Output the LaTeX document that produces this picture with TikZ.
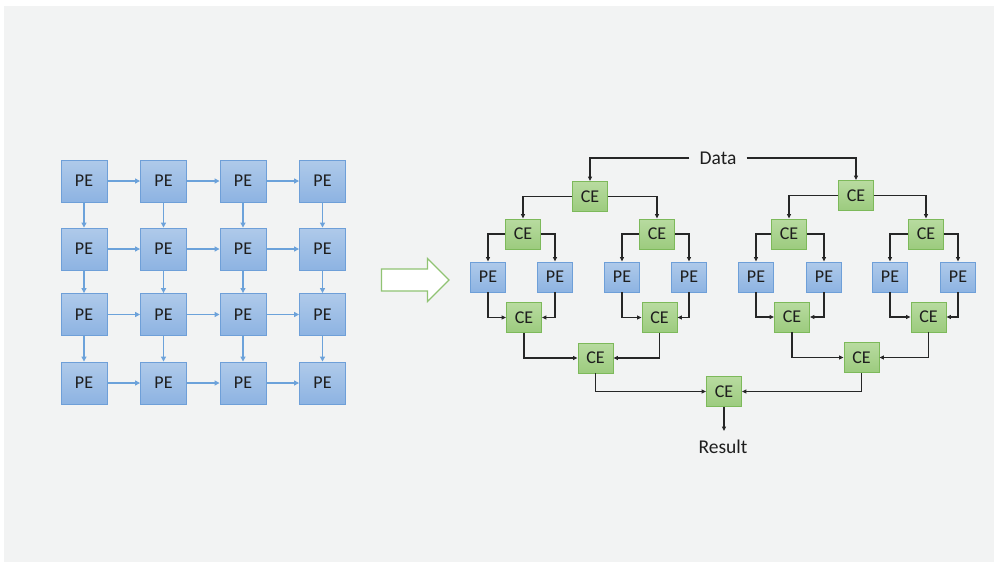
\documentclass[tikz,border=0pt]{standalone}
\usepackage{fontspec}
\setmainfont{Carlito}
\usetikzlibrary{arrows.meta}
\definecolor{bgray}{HTML}{F2F3F3}
\definecolor{petop}{HTML}{AFCAEA}
\definecolor{pebot}{HTML}{8DB3E2}
\definecolor{peline}{HTML}{6E9FD8}
\definecolor{cetop}{HTML}{B8DBA0}
\definecolor{cebot}{HTML}{9CCB7E}
\definecolor{celine}{HTML}{7DB95A}
\definecolor{gridarrow}{HTML}{6CA2DA}
\definecolor{linkcol}{HTML}{262626}
\definecolor{txt}{HTML}{1E1E1E}
\tikzset{
  gridpe/.style={draw=peline, line width=0.9pt, top color=petop, bottom color=pebot,
    minimum width=46pt, minimum height=42pt, inner sep=0pt, font=\fontsize{18}{19}\selectfont, text=txt},
  smallpe/.style={draw=peline, line width=0.9pt, top color=petop, bottom color=pebot,
    minimum width=35pt, minimum height=30pt, inner sep=0pt, font=\fontsize{18}{19}\selectfont, text=txt},
  cebox/.style={draw=celine, line width=0.9pt, top color=cetop, bottom color=cebot,
    minimum width=35pt, minimum height=30pt, inner sep=0pt, font=\fontsize{18}{19}\selectfont, text=txt},
  gridlink/.style={draw=gridarrow, line width=1.2pt, -{Triangle[length=5pt,width=5pt]}},
  link/.style={draw=linkcol, line width=1.1pt, -{Triangle[length=4.5pt,width=4pt]}},
  label/.style={font=\fontsize{19.5}{21}\selectfont, text=txt, inner sep=0pt}
}
\begin{document}
\begin{tikzpicture}[x=1pt,y=-1pt]
\useasboundingbox (0,0) rectangle (994,565);
\fill[white] (0,0) rectangle (994,565);
\fill[bgray] (4,6) rectangle (994,562);

% ---- grid of PEs ----
\foreach \r/\y in {1/181,2/249,3/314.5,4/383}{
  \foreach \c/\x in {1/84,2/163.5,3/243,4/322.5}{
    \node[gridpe] (g\r\c) at (\x,\y) {PE};
  }
}
\foreach \r in {1,2,3,4}{
  \draw[gridlink] (g\r1.east) -- (g\r2.west);
  \draw[gridlink] (g\r2.east) -- (g\r3.west);
  \draw[gridlink] (g\r3.east) -- (g\r4.west);
}
\foreach \c in {1,2,3,4}{
  \draw[gridlink] (g1\c.south) -- (g2\c.north);
  \draw[gridlink] (g2\c.south) -- (g3\c.north);
  \draw[gridlink] (g3\c.south) -- (g4\c.north);
}

% ---- big arrow ----
\draw[draw=celine!85, line width=1.4pt, fill=white, line join=miter]
  (381.5,269) -- (427.5,269) -- (427.5,258.5) -- (449,280) -- (427.5,301.5) -- (427.5,291) -- (381.5,291) -- cycle;

% ---- tree ----
\node[label] (data) at (718,158) {Data};
\node[cebox] (t1) at (590,196.5) {CE};
\node[cebox] (t2) at (856,195.5) {CE};
\node[cebox] (a1) at (523,234) {CE};
\node[cebox] (a2) at (657,234) {CE};
\node[cebox] (a3) at (789,234) {CE};
\node[cebox] (a4) at (926,234) {CE};
\node[smallpe] (p1) at (488,277) {PE};
\node[smallpe] (p2) at (555,277) {PE};
\node[smallpe] (p3) at (622,277) {PE};
\node[smallpe] (p4) at (689,277) {PE};
\node[smallpe] (p5) at (756,277) {PE};
\node[smallpe] (p6) at (824,277) {PE};
\node[smallpe] (p7) at (890,277) {PE};
\node[smallpe] (p8) at (958,277) {PE};
\node[cebox] (m1) at (524,317.5) {CE};
\node[cebox] (m2) at (659.5,317.5) {CE};
\node[cebox] (m3) at (792,317) {CE};
\node[cebox] (m4) at (928.5,317) {CE};
\node[cebox] (n1) at (595.5,358) {CE};
\node[cebox] (n2) at (861.5,357.5) {CE};
\node[cebox] (f) at (724,391.5) {CE};
\node[label] (res) at (723,447) {Result};
\coordinate (rtop) at (724,431);

\draw[link] ([xshift=-10pt]data.west) -| (t1.north);
\draw[link] ([xshift=10pt]data.east) -| (t2.north);
\draw[link] (t1.west) -| (a1.north);
\draw[link] (t1.east) -| (a2.north);
\draw[link] (t2.west) -| (a3.north);
\draw[link] (t2.east) -| (a4.north);
\draw[link] (a1.west) -| (p1.north);
\draw[link] (a1.east) -| (p2.north);
\draw[link] (a2.west) -| (p3.north);
\draw[link] (a2.east) -| (p4.north);
\draw[link] (a3.west) -| (p5.north);
\draw[link] (a3.east) -| (p6.north);
\draw[link] (a4.west) -| (p7.north);
\draw[link] (a4.east) -| (p8.north);
\draw[link] (p1.south) |- (m1.west);
\draw[link] (p2.south) |- (m1.east);
\draw[link] (p3.south) |- (m2.west);
\draw[link] (p4.south) |- (m2.east);
\draw[link] (p5.south) |- (m3.west);
\draw[link] (p6.south) |- (m3.east);
\draw[link] (p7.south) |- (m4.west);
\draw[link] (p8.south) |- (m4.east);
\draw[link] (m1.south) |- (n1.west);
\draw[link] (m2.south) |- (n1.east);
\draw[link] (m3.south) |- (n2.west);
\draw[link] (m4.south) |- (n2.east);
\draw[link] (n1.south) |- (f.west);
\draw[link] (n2.south) |- (f.east);
\draw[link] (f.south) -- (rtop);
\end{tikzpicture}
\end{document}
